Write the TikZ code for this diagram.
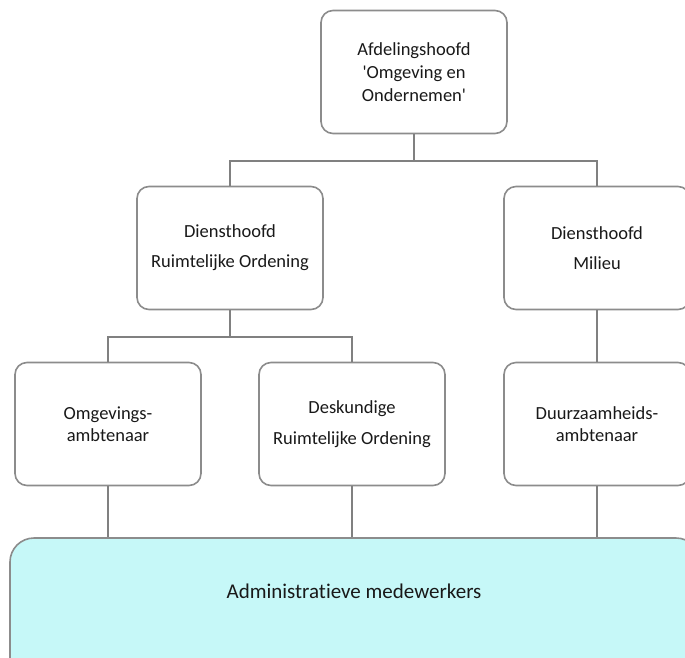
\documentclass[tikz,border=0pt]{standalone}
\usepackage{fontspec}
\setmainfont{Carlito}[Ligatures={NoCommon}]
\definecolor{boxgray}{HTML}{8C8C8C}
\definecolor{linegray}{HTML}{808080}
\definecolor{admcyan}{HTML}{C6F8F8}
\tikzset{
  orgbox/.style={draw=boxgray,line width=1.6pt,rounded corners=12pt,fill=white,
    minimum width=186pt,minimum height=123pt,align=center,
    font=\fontsize{18.5}{23}\selectfont,text=black!90},
  adminbox/.style={draw=boxgray,line width=1.6pt,rounded corners=24pt,fill=admcyan,
    minimum width=690pt,minimum height=150pt},
  link/.style={draw=linegray,line width=1.2pt}
}
\begin{document}
\begin{tikzpicture}[x=1pt,y=-1pt]
\useasboundingbox (0,0) rectangle (685,657);
% top
\node[orgbox] (head) at (414,72) {Afdelingshoofd\\\textquotesingle Omgeving en\\Ondernemen\textquotesingle};
% diensthoofden
\node[orgbox,font=\fontsize{18.5}{30}\selectfont] (ro) at (230,248) {Diensthoofd\\Ruimtelijke Ordening};
\node[orgbox,font=\fontsize{18.5}{30}\selectfont] (mil) at (597,248) {Diensthoofd\\Milieu};
% medewerkers
\node[orgbox,font=\fontsize{18.5}{22}\selectfont] (omg) at (108,424) {Omgevings-\\ambtenaar};
\node[orgbox,font=\fontsize{18.5}{31}\selectfont] (desk) at (352,424) {Deskundige\\Ruimtelijke Ordening};
\node[orgbox,font=\fontsize{18.5}{22}\selectfont] (duur) at (597,424) {Duurzaamheids-\\ambtenaar};
\node[adminbox] (adm) at (355,613) {};
\node[font=\fontsize{21}{24}\selectfont,text=black!90] (admtxt) at (354,591) {Administratieve medewerkers};

\coordinate (j1) at (414,161);
\coordinate (j2) at (230,337);
\draw[link] (head) -- (j1);
\draw[link] (ro.north) |- (j1) -| (mil.north);
\draw[link] (ro) -- (j2);
\draw[link] (omg.north) |- (j2) -| (desk.north);
\draw[link] (mil) -- (duur);
\draw[link] (omg.south) -- (omg.south |- adm.north);
\draw[link] (desk.south) -- (desk.south |- adm.north);
\draw[link] (duur.south) -- (duur.south |- adm.north);
\end{tikzpicture}
\end{document}
